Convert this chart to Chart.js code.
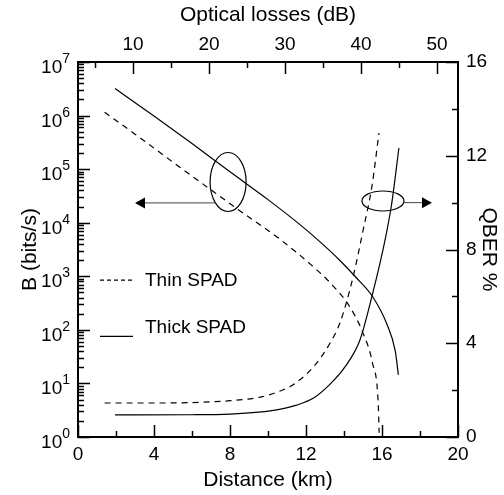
<!DOCTYPE html>
<html>
<head>
<meta charset="utf-8">
<script src="https://cdn.jsdelivr.net/npm/chart.js@4.4.1/dist/chart.umd.min.js"></script>
<style>
  html, body { margin: 0; padding: 0; background: #fff; }
</style>
</head>
<body>
<canvas id="spad-chart" width="504" height="495"></canvas>
<script>
// bit rate (left, log) vs distance
const thinRateDist = [1.4, 3, 5, 7, 8.3, 10.6, 12.3, 13.3, 14.3, 15, 15.5, 15.8, 15.85];
const thinRate = [1.15e6, 4.5e5, 1.35e5, 4.1e4, 1.9e4, 5.0e3, 1.6e3, 740, 270, 87, 24, 4.3, 1.2];
const thickRateDist = [1.95, 4, 6, 8, 10, 11.7, 12.8, 13.8, 14.6, 15.5, 16.25, 16.7, 16.86];
const thickRate = [3.2e6, 9.8e5, 3.0e5, 8.9e4, 2.7e4, 9.1e3, 4.2e3, 1.95e3, 980, 420, 130, 40, 14.5];

// QBER (right axis) vs distance
const thinQberDist = [1.4, 4, 6, 8, 9.7, 10.6, 11.3, 12.4, 13.26, 13.8, 14.47, 15, 15.47, 15.84];
const thinQber = [1.45, 1.45, 1.47, 1.55, 1.72, 1.95, 2.22, 3.0, 4.0, 4.9, 6.8, 8.8, 10.7, 12.97];
const thickQberDist = [1.95, 6, 8, 9.5, 10.6, 11.5, 12.4, 13.2, 14.05, 14.84, 15.47, 16.05, 16.5, 16.89];
const thickQber = [0.94, 0.95, 0.98, 1.06, 1.18, 1.36, 1.66, 2.2, 2.99, 4.14, 6.0, 7.98, 9.9, 12.33];

// axes
const distanceTicks = [0, 2, 4, 6, 8, 10, 12, 14, 16, 18, 20];
const lossTicks = [5, 10, 15, 20, 25, 30, 35, 40, 45, 50];
const qberTicks = [0, 2, 4, 6, 8, 10, 12, 14, 16];
const rateDecades = [0, 1, 2, 3, 4, 5, 6, 7];
const lossAtZero = 2.75; // dB at 0 km
const lossPerKm = 2.5;

const FONT = "'Liberation Sans', Arial, sans-serif";

function toPoints(xs, ys) {
  return xs.map((x, i) => ({ x, y: ys[i] }));
}

function logMinorTicks() {
  const out = [];
  rateDecades.forEach((n) => {
    for (let m = 1; m <= 9; m++) {
      const v = m * Math.pow(10, n);
      if (v <= 1e7) out.push({ value: v });
    }
  });
  return out;
}

function drawArrowHead(ctx, x, y, dir) {
  ctx.beginPath();
  ctx.moveTo(x, y);
  ctx.lineTo(x - dir * 10, y - 5.5);
  ctx.lineTo(x - dir * 10, y + 5.5);
  ctx.closePath();
  ctx.fill();
}

const axisExtras = {
  id: "axisExtras",
  afterDraw(chart) {
    const { ctx, chartArea: a, scales } = chart;
    const { x, x2, y, y2 } = scales;
    ctx.save();

    // inward ticks
    ctx.strokeStyle = "#000";
    ctx.lineWidth = 1.5;
    ctx.beginPath();
    x.ticks.forEach((t) => {
      const px = Math.round(x.getPixelForValue(t.value)) + 0.5;
      const len = t.value % 4 === 0 ? 12 : 6;
      ctx.moveTo(px, a.bottom);
      ctx.lineTo(px, a.bottom - len);
    });
    x2.ticks.forEach((t) => {
      const px = Math.round(x2.getPixelForValue(t.value)) + 0.5;
      const len = t.value % 10 === 0 ? 12 : 6;
      ctx.moveTo(px, a.top);
      ctx.lineTo(px, a.top + len);
    });
    y2.ticks.forEach((t) => {
      const py = Math.round(y2.getPixelForValue(t.value)) + 0.5;
      const len = t.value % 4 === 0 ? 12 : 6;
      ctx.moveTo(a.right, py);
      ctx.lineTo(a.right - len, py);
    });
    y.ticks.forEach((t) => {
      const py = Math.round(y.getPixelForValue(t.value)) + 0.5;
      const lg = Math.log10(t.value);
      const len = Math.abs(lg - Math.round(lg)) < 1e-9 ? 12 : 6;
      ctx.moveTo(a.left, py);
      ctx.lineTo(a.left + len, py);
    });
    ctx.stroke();

    // left log labels 10^n
    ctx.fillStyle = "#000";
    ctx.textAlign = "right";
    ctx.textBaseline = "alphabetic";
    rateDecades.forEach((n) => {
      const py = y.getPixelForValue(Math.pow(10, n));
      const right = a.left - 8;
      ctx.font = "14px " + FONT;
      const ew = ctx.measureText(String(n)).width;
      ctx.fillText(String(n), right, py + 1);
      ctx.font = "19px " + FONT;
      ctx.fillText("10", right - ew, py + 11);
    });

    // legend
    ctx.font = "19px " + FONT;
    ctx.textAlign = "left";
    ctx.textBaseline = "middle";
    ctx.lineWidth = 1.2;
    const lx0 = a.left + 22, lx1 = a.left + 55, tx = a.left + 67;
    const thinY = y.getPixelForValue(Math.pow(10, 2.93));
    const thickY = y.getPixelForValue(Math.pow(10, 1.88));
    ctx.setLineDash([4, 3]);
    ctx.beginPath();
    ctx.moveTo(lx0, thinY);
    ctx.lineTo(lx1, thinY);
    ctx.stroke();
    ctx.setLineDash([]);
    ctx.beginPath();
    ctx.moveTo(lx0, thickY);
    ctx.lineTo(lx1, thickY);
    ctx.stroke();
    ctx.fillText("Thin SPAD", tx, thinY + 1);
    ctx.fillText("Thick SPAD", tx, thickY - 9);

    // ellipse + arrow to the left axis
    const e1x = x.getPixelForValue(7.9), e1y = y.getPixelForValue(Math.pow(10, 4.76));
    const e1rx = 18, e1ry = 29.5;
    ctx.lineWidth = 1.2;
    ctx.strokeStyle = "#000";
    ctx.beginPath();
    ctx.ellipse(e1x, e1y, e1rx, e1ry, 0, 0, Math.PI * 2);
    ctx.stroke();
    const a1y = y.getPixelForValue(Math.pow(10, 4.37));
    const dy1 = (a1y - e1y) / e1ry;
    const a1start = e1x - e1rx * Math.sqrt(Math.max(0, 1 - dy1 * dy1));
    const a1end = x.getPixelForValue(3.0);
    ctx.strokeStyle = "#444";
    ctx.lineWidth = 1;
    ctx.beginPath();
    ctx.moveTo(a1start, a1y);
    ctx.lineTo(a1end + 8, a1y);
    ctx.stroke();
    ctx.fillStyle = "#000";
    drawArrowHead(ctx, a1end, a1y, -1);

    // ellipse + arrow to the right axis
    const e2x = x.getPixelForValue(16.05), e2y = y2.getPixelForValue(10.07);
    const e2rx = 21, e2ry = 10;
    ctx.strokeStyle = "#000";
    ctx.lineWidth = 1.2;
    ctx.beginPath();
    ctx.ellipse(e2x, e2y, e2rx, e2ry, 0, 0, Math.PI * 2);
    ctx.stroke();
    const a2y = y2.getPixelForValue(10.0);
    const a2end = x.getPixelForValue(18.63);
    ctx.strokeStyle = "#444";
    ctx.lineWidth = 1;
    ctx.beginPath();
    ctx.moveTo(e2x + e2rx, a2y);
    ctx.lineTo(a2end - 8, a2y);
    ctx.stroke();
    drawArrowHead(ctx, a2end, a2y, 1);

    ctx.restore();
  },
};

const tickFont = { family: FONT, size: 19 };
const titleFont = { family: FONT, size: 21 };
const axisBorder = { display: true, color: "#000", width: 2 };

const lineStyle = (dashed) => ({
  borderColor: "#000",
  borderWidth: 1.2,
  borderDash: dashed ? [6, 5] : [],
  pointRadius: 0,
  fill: false,
  cubicInterpolationMode: "monotone",
});

new Chart(document.getElementById("spad-chart"), {
  type: "line",
  data: {
    datasets: [
      { label: "Thin SPAD B", data: toPoints(thinRateDist, thinRate), yAxisID: "y", xAxisID: "x", ...lineStyle(true) },
      { label: "Thick SPAD B", data: toPoints(thickRateDist, thickRate), yAxisID: "y", xAxisID: "x", ...lineStyle(false) },
      { label: "Thin SPAD QBER", data: toPoints(thinQberDist, thinQber), yAxisID: "y2", xAxisID: "x", ...lineStyle(true) },
      { label: "Thick SPAD QBER", data: toPoints(thickQberDist, thickQber), yAxisID: "y2", xAxisID: "x", ...lineStyle(false) },
    ],
  },
  options: {
    responsive: false,
    animation: false,
    layout: { padding: 0 },
    plugins: { legend: { display: false }, tooltip: { enabled: false } },
    scales: {
      x: {
        type: "linear",
        position: "bottom",
        min: 0,
        max: 20,
        afterBuildTicks: (s) => { s.ticks = distanceTicks.map((v) => ({ value: v })); },
        afterFit: (s) => { s.height = 58; },
        grid: { display: false, drawTicks: false },
        border: axisBorder,
        ticks: { font: tickFont, color: "#000", padding: 6, maxRotation: 0, autoSkip: false,
          callback: (v) => (v % 4 === 0 ? String(v) : "") },
        title: { display: true, text: "Distance (km)", font: titleFont, color: "#000", padding: { top: 0, bottom: 2 } },
      },
      x2: {
        type: "linear",
        position: "top",
        min: lossAtZero,
        max: lossAtZero + 20 * lossPerKm,
        afterBuildTicks: (s) => { s.ticks = lossTicks.map((v) => ({ value: v })); },
        afterFit: (s) => { s.height = 62; },
        grid: { display: false, drawTicks: false },
        border: axisBorder,
        ticks: { font: tickFont, color: "#000", padding: 6, maxRotation: 0, autoSkip: false,
          callback: (v) => (v % 10 === 0 ? String(v) : "") },
        title: { display: true, text: "Optical losses (dB)", font: titleFont, color: "#000", padding: { top: 3, bottom: 0 } },
      },
      y: {
        type: "logarithmic",
        position: "left",
        min: 1,
        max: 1e7,
        afterBuildTicks: (s) => { s.ticks = logMinorTicks(); },
        afterFit: (s) => { s.width = 78; },
        grid: { display: false, drawTicks: false },
        border: axisBorder,
        ticks: { display: false },
        title: { display: true, text: "B (bits/s)", font: titleFont, color: "#000", padding: { top: 18, bottom: 0 } },
      },
      y2: {
        type: "linear",
        position: "right",
        min: 0,
        max: 16,
        afterBuildTicks: (s) => { s.ticks = qberTicks.map((v) => ({ value: v })); },
        afterFit: (s) => { s.width = 46; },
        grid: { display: false, drawTicks: false },
        border: axisBorder,
        ticks: { font: tickFont, color: "#000", padding: 8, autoSkip: false,
          callback: (v) => (v % 4 === 0 ? String(v) : "") },
        title: { display: true, text: "QBER %", font: titleFont, color: "#000", padding: { top: 3, bottom: 0 } },
      },
    },
  },
  plugins: [axisExtras],
});
</script>
</body>
</html>
